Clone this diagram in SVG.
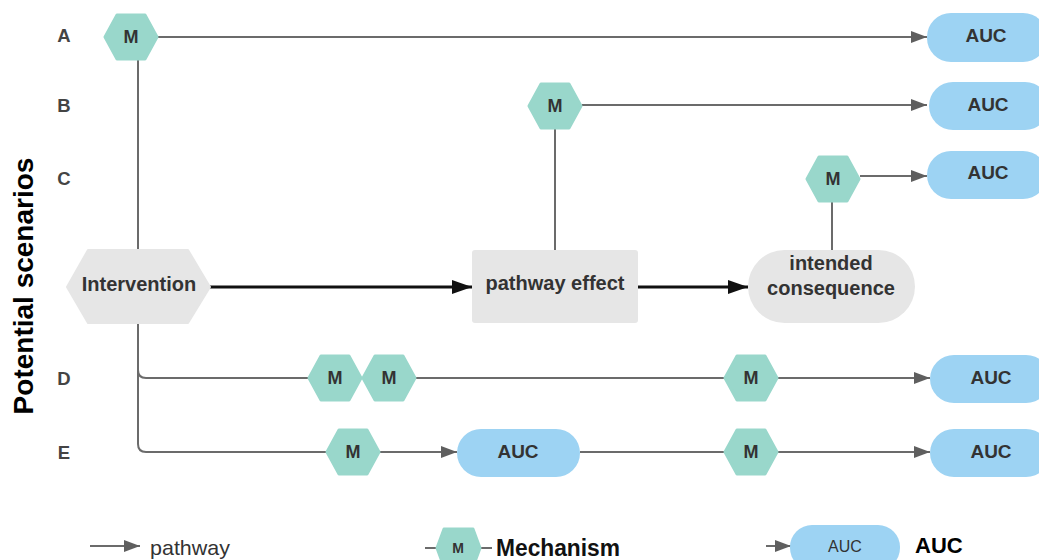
<svg xmlns="http://www.w3.org/2000/svg" xmlns:xlink="http://www.w3.org/1999/xlink" width="1039" height="560" viewBox="0 0 1039 560">
<style>
.ln{fill:none;stroke:#6b6b6b;stroke-width:2}
.thick{fill:none;stroke:#111;stroke-width:3}
.hexm{fill:#99d7cb;stroke:#99d7cb;stroke-width:3;stroke-linejoin:round}
.auc{fill:#9dd3f3}
.gray{fill:#e6e6e6}
.t{font-family:"Liberation Sans",Arial,sans-serif;font-weight:bold;fill:#333;text-anchor:middle}
.lab{font-family:"Liberation Sans",Arial,sans-serif;font-weight:bold;fill:#444;font-size:18.5px;text-anchor:middle}
</style>
<defs>
<marker id="ag" markerUnits="userSpaceOnUse" markerWidth="18" markerHeight="12" refX="16" refY="6" orient="auto"><path d="M0,0 L16,6 L0,12 Z" fill="#5f5f5f"/></marker>
<marker id="ak" markerUnits="userSpaceOnUse" markerWidth="22" markerHeight="14" refX="20" refY="7" orient="auto"><path d="M0,0 L20,7 L0,14 Z" fill="#111"/></marker>
<polygon id="hx" class="hexm" points="-26,0 -14,-22 14,-22 26,0 14,22 -14,22"/>
</defs>
<rect width="1039" height="560" fill="#fff"/>

<g id="connectors">
<line class="ln" x1="138" y1="60" x2="138" y2="250"/>
<path class="ln" d="M138,323 V444 Q138,452 146,452 H327"/>
<path class="ln" d="M138,370 Q138,378 146,378 H308"/>
<line class="ln" x1="158" y1="37" x2="927" y2="37" marker-end="url(#ag)"/>
<line class="ln" x1="555" y1="128" x2="555" y2="250"/>
<line class="ln" x1="582" y1="105" x2="927" y2="105" marker-end="url(#ag)"/>
<line class="ln" x1="832" y1="200" x2="832" y2="250"/>
<line class="ln" x1="860" y1="176" x2="927" y2="176" marker-end="url(#ag)"/>
<line class="ln" x1="416" y1="378" x2="725" y2="378"/>
<line class="ln" x1="778" y1="378" x2="930" y2="378" marker-end="url(#ag)"/>
<line class="ln" x1="380" y1="452" x2="457" y2="452" marker-end="url(#ag)"/>
<line class="ln" x1="580" y1="452" x2="725" y2="452"/>
<line class="ln" x1="778" y1="452" x2="930" y2="452" marker-end="url(#ag)"/>
<line class="thick" x1="210" y1="287" x2="472" y2="287" marker-end="url(#ak)"/>
<line class="thick" x1="638" y1="287" x2="748" y2="287" marker-end="url(#ak)"/>
</g>

<g id="row-labels">
<text class="lab" x="64" y="42">A</text>
<text class="lab" x="64" y="112">B</text>
<text class="lab" x="64" y="185">C</text>
<text class="lab" x="64" y="385">D</text>
<text class="lab" x="64" y="459">E</text>
<text x="33" y="286" transform="rotate(-90 33 286)" font-family="'Liberation Sans',Arial,sans-serif" font-weight="bold" font-size="28" fill="#000" text-anchor="middle">Potential scenarios</text>
</g>

<g id="intervention">
<polygon class="gray" points="67,287 88,250 188,250 210,287 188,323 88,323" stroke="#e6e6e6" stroke-width="2" stroke-linejoin="round"/>
<text class="t" x="139" y="291" font-size="20">Intervention</text>
</g>
<g id="pathway-effect">
<rect class="gray" x="472" y="250" width="166" height="73" rx="3"/>
<text class="t" x="555" y="290" font-size="20">pathway effect</text>
</g>
<g id="intended-consequence">
<rect class="gray" x="748" y="250" width="167" height="73" rx="36.5"/>
<text class="t" x="831" y="270" font-size="20">intended</text>
<text class="t" x="831" y="295" font-size="20">consequence</text>
</g>

<g id="mA"><use xlink:href="#hx" x="131" y="37"/><text class="t" x="131" y="43" font-size="18">M</text></g>
<g id="mB"><use xlink:href="#hx" x="555" y="106"/><text class="t" x="555" y="112" font-size="18">M</text></g>
<g id="mC"><use xlink:href="#hx" x="833" y="179"/><text class="t" x="833" y="185" font-size="18">M</text></g>
<g id="mD1"><use xlink:href="#hx" x="335" y="378"/><text class="t" x="335" y="384" font-size="18">M</text></g>
<g id="mD2"><use xlink:href="#hx" x="389" y="378"/><text class="t" x="389" y="384" font-size="18">M</text></g>
<g id="mD3"><use xlink:href="#hx" x="751" y="378"/><text class="t" x="751" y="384" font-size="18">M</text></g>
<g id="mE1"><use xlink:href="#hx" x="353" y="452"/><text class="t" x="353" y="458" font-size="18">M</text></g>
<g id="mE2"><use xlink:href="#hx" x="751" y="452"/><text class="t" x="751" y="458" font-size="18">M</text></g>

<g id="aucA"><rect class="auc" x="927" y="13" width="120" height="49" rx="24"/><text class="t" x="986" y="42" font-size="19">AUC</text></g>
<g id="aucB"><rect class="auc" x="929" y="82" width="120" height="48" rx="24"/><text class="t" x="988" y="111" font-size="19">AUC</text></g>
<g id="aucC"><rect class="auc" x="927" y="151" width="120" height="48" rx="24"/><text class="t" x="988" y="179" font-size="19">AUC</text></g>
<g id="aucD"><rect class="auc" x="930" y="355" width="120" height="48" rx="24"/><text class="t" x="991" y="384" font-size="19">AUC</text></g>
<g id="aucE1"><rect class="auc" x="457" y="429" width="123" height="48" rx="24"/><text class="t" x="518" y="458" font-size="19">AUC</text></g>
<g id="aucE2"><rect class="auc" x="930" y="429" width="120" height="48" rx="24"/><text class="t" x="991" y="458" font-size="19">AUC</text></g>

<g id="legend">
<line class="ln" x1="90" y1="546" x2="140" y2="546" marker-end="url(#ag)"/>
<text x="150" y="555" font-family="'Liberation Sans',Arial,sans-serif" font-size="21" fill="#333" textLength="80" lengthAdjust="spacingAndGlyphs">pathway</text>
<line class="ln" x1="425" y1="548" x2="492" y2="548"/>
<polygon class="hexm" points="437,548 444,529 473,529 480,548 473,567 444,567"/>
<text class="t" x="458" y="553" font-size="14" font-weight="normal">M</text>
<text x="496" y="556" font-family="'Liberation Sans',Arial,sans-serif" font-weight="bold" font-size="23" fill="#111" textLength="124" lengthAdjust="spacingAndGlyphs">Mechanism</text>
<line class="ln" x1="766" y1="546" x2="791" y2="546" marker-end="url(#ag)"/>
<rect class="auc" x="790" y="525" width="110" height="45" rx="22"/>
<text x="845" y="552" font-family="'Liberation Sans',Arial,sans-serif" font-size="16" fill="#333" text-anchor="middle">AUC</text>
<text x="915" y="553" font-family="'Liberation Sans',Arial,sans-serif" font-weight="bold" font-size="22" fill="#000">AUC</text>
</g>
</svg>
